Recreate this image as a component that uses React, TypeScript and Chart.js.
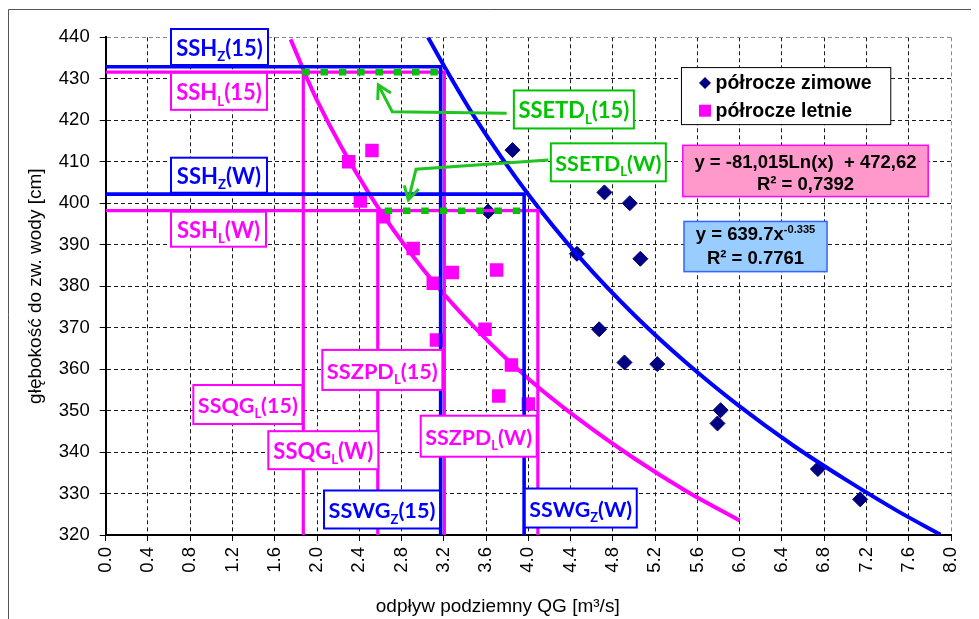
import React, { useEffect, useRef } from 'react';
import { Chart, registerables } from 'chart.js';

Chart.register(...registerables);

// ---------------- data ----------------
const X_MIN = 0;
const X_MAX = 8;
const X_STEP = 0.4;
const Y_MIN = 320;
const Y_MAX = 440;
const Y_STEP = 10;

const winterQ = [3.62, 3.85, 4.46, 4.67, 4.72, 4.91, 4.96, 5.06, 5.22, 5.79, 5.82, 6.74, 7.14];
const winterH = [398.0, 412.8, 387.8, 369.6, 402.6, 361.6, 400.0, 386.6, 361.2, 346.9, 350.1, 335.9, 328.6];

const summerQ = [2.30, 2.41, 2.52, 2.63, 2.91, 3.10, 3.13, 3.28, 3.59, 3.70, 3.72, 3.84, 4.00];
const summerH = [410.0, 400.5, 412.7, 396.7, 389.1, 380.7, 367.0, 383.3, 369.6, 383.9, 353.5, 361.0, 351.6];

// trend curves, points
const winterTrendQ = [3.05, 3.2, 3.5, 4.0, 4.5, 5.0, 5.5, 6.0, 6.5, 7.0, 7.5, 7.9];
const winterTrendH = [440.0, 433.2, 420.4, 402.1, 386.5, 373.1, 361.4, 351.0, 341.7, 333.4, 325.7, 320.1];
const summerTrendQ = [1.75, 2.0, 2.5, 3.0, 3.5, 4.0, 4.5, 5.0, 5.5, 6.0];
const summerTrendH = [439.5, 424.8, 402.0, 384.2, 369.8, 357.7, 347.5, 338.5, 330.5, 323.5];

// characteristic levels: index 0 = (15), index 1 = (W)
const SSH_Z = [432.9, 402.2];
const SSH_L = [431.6, 398.2];
const SSWG_Z = [3.17, 3.96];
const SSZPD_L = [3.205, 4.09];
const SSQG_L = [1.87, 2.575];
const SSETD_L_START = [1.86, 2.64];
const SSETD_L_END = [3.15, 3.95];

const SERIES_LABELS = ['półrocze zimowe', 'półrocze letnie'];
const X_TITLE = 'odpływ podziemny QG [m³/s]';
const Y_TITLE = 'głębokość do zw. wody [cm]';

// ---------------- styles ----------------
const BLUE = '#0000FF';
const MAGENTA = '#FF00FF';
const NAVY = '#000080';
const GREEN = '#00C400';
const GREEN_LINE = '#22C422';
const SANS = "'Liberation Sans', Arial, sans-serif";
const LABEL_FONT = "Lato, 'Open Sans', sans-serif";

type Seg = { t: string; sub?: boolean; sup?: boolean };

const LABEL_BOXES: { segs: Seg[]; color: string; anchor: 'left' | 'right'; x: number; y: number; w: number; h: number }[] = [
  { segs: [{ t: 'SSH' }, { t: 'Z', sub: true }, { t: '(15)' }], color: BLUE, anchor: 'left', x: 0.618, y: 437.66, w: 97, h: 36 },
  { segs: [{ t: 'SSH' }, { t: 'L', sub: true }, { t: '(15)' }], color: MAGENTA, anchor: 'left', x: 0.618, y: 426.97, w: 96, h: 37 },
  { segs: [{ t: 'SSH' }, { t: 'Z', sub: true }, { t: '(W)' }], color: BLUE, anchor: 'left', x: 0.618, y: 406.75, w: 96, h: 35 },
  { segs: [{ t: 'SSH' }, { t: 'L', sub: true }, { t: '(W)' }], color: MAGENTA, anchor: 'left', x: 0.618, y: 393.73, w: 95, h: 35 },
  { segs: [{ t: 'SSETD' }, { t: 'L', sub: true }, { t: '(15)' }], color: GREEN, anchor: 'left', x: 3.863, y: 422.6, w: 120, h: 38 },
  { segs: [{ t: 'SSETD' }, { t: 'L', sub: true }, { t: '(W)' }], color: GREEN, anchor: 'left', x: 4.213, y: 409.85, w: 115, h: 38 },
  { segs: [{ t: 'SSZPD' }, { t: 'L', sub: true }, { t: '(15)' }], color: MAGENTA, anchor: 'right', x: 3.186, y: 359.8, w: 120, h: 40 },
  { segs: [{ t: 'SSQG' }, { t: 'L', sub: true }, { t: '(15)' }], color: MAGENTA, anchor: 'right', x: 1.861, y: 351.46, w: 109, h: 39 },
  { segs: [{ t: 'SSQG' }, { t: 'L', sub: true }, { t: '(W)' }], color: MAGENTA, anchor: 'right', x: 2.58, y: 340.45, w: 110, h: 38 },
  { segs: [{ t: 'SSZPD' }, { t: 'L', sub: true }, { t: '(W)' }], color: MAGENTA, anchor: 'right', x: 4.079, y: 343.82, w: 116, h: 41 },
  { segs: [{ t: 'SSWG' }, { t: 'Z', sub: true }, { t: '(15)' }], color: BLUE, anchor: 'right', x: 3.164, y: 326.15, w: 116, h: 38 },
  { segs: [{ t: 'SSWG' }, { t: 'Z', sub: true }, { t: '(W)' }], color: BLUE, anchor: 'left', x: 3.966, y: 326.5, w: 112, h: 39 },
];

// arrows: polyline in data coords, last point = tip
const ARROWS: { x: number; y: number }[][] = [
  [{ x: 3.795, y: 421.7 }, { x: 2.712, y: 422.06 }, { x: 2.58, y: 428.5 }],
  [{ x: 4.189, y: 410.4 }, { x: 2.937, y: 408.2 }, { x: 2.864, y: 400.8 }],
];

const EQ_BOXES: { lines: Seg[][]; fill: string; stroke: string; x1: number; x2: number; y1: number; y2: number; ly: number[] }[] = [
  {
    lines: [[{ t: 'y = -81,015Ln(x)  + 472,62' }], [{ t: 'R² = 0,7392' }]],
    fill: '#FF99CC', stroke: MAGENTA, x1: 5.462, x2: 7.784, y1: 413.96, y2: 401.6, ly: [410.2, 404.8],
  },
  {
    lines: [[{ t: 'y = 639.7x' }, { t: '-0.335', sup: true }], [{ t: 'R² = 0.7761' }]],
    fill: '#99CCFF', stroke: '#3366FF', x1: 5.473, x2: 6.827, y1: 395.6, y2: 383.5, ly: [392.7, 386.9],
  },
];

const LEGEND_BOX = { x1: 5.449, x2: 7.43, y1: 432.7, y2: 418.95, markerX: 5.672, textX: 5.771, rows: [429.0, 422.3] };
const X_TITLE_POS = { dx: 392, y: 598.5 }; // offset from plot left edge, canvas y

// ---------------- drawing helpers ----------------
const SMALL = 0.6;
function fontStr(size: number, family: string, bold: boolean) {
  return `${bold ? 'bold ' : ''}${size}px ${family}`;
}
function measureSegs(ctx: CanvasRenderingContext2D, segs: Seg[], size: number, family: string, bold: boolean) {
  let w = 0;
  for (const s of segs) {
    ctx.font = fontStr(s.sub || s.sup ? size * SMALL : size, family, bold);
    w += ctx.measureText(s.t).width;
  }
  return w;
}
function drawSegs(ctx: CanvasRenderingContext2D, segs: Seg[], x: number, baseline: number, size: number, family: string, bold: boolean, color: string) {
  ctx.fillStyle = color;
  ctx.textAlign = 'left';
  ctx.textBaseline = 'alphabetic';
  let cx = x;
  for (const s of segs) {
    const fs = s.sub || s.sup ? size * SMALL : size;
    ctx.font = fontStr(fs, family, bold);
    const dy = s.sub ? size * 0.24 : s.sup ? -size * 0.4 : 0;
    ctx.fillText(s.t, cx, baseline + dy);
    cx += ctx.measureText(s.t).width;
  }
}

const overlayPlugin = {
  id: 'overlay',
  beforeDraw(chart: any) {
    const ctx: CanvasRenderingContext2D = chart.ctx;
    ctx.save();
    ctx.strokeStyle = '#555';
    ctx.lineWidth = 1;
    ctx.beginPath();
    ctx.moveTo(0.5, chart.height);
    ctx.lineTo(0.5, 1.5);
    ctx.lineTo(chart.width, 1.5);
    ctx.stroke();
    // x axis title (placed as in the reference, left of the axis centre)
    ctx.font = fontStr(19, SANS, false);
    ctx.fillStyle = '#000';
    ctx.textAlign = 'center';
    ctx.textBaseline = 'middle';
    ctx.fillText(X_TITLE, chart.chartArea.left + X_TITLE_POS.dx, X_TITLE_POS.y);
    ctx.restore();
  },
  afterDatasetsDraw(chart: any) {
    const ctx: CanvasRenderingContext2D = chart.ctx;
    const xs = chart.scales.x;
    const ys = chart.scales.y;
    const px = (v: number) => xs.getPixelForValue(v);
    const py = (v: number) => ys.getPixelForValue(v);
    ctx.save();

    // arrows
    ctx.strokeStyle = GREEN_LINE;
    ctx.lineWidth = 3;
    ctx.lineJoin = 'miter';
    ctx.lineCap = 'butt';
    for (const a of ARROWS) {
      ctx.beginPath();
      a.forEach((p, i) => (i === 0 ? ctx.moveTo(px(p.x), py(p.y)) : ctx.lineTo(px(p.x), py(p.y))));
      ctx.stroke();
      const tip = a[a.length - 1];
      const prev = a[a.length - 2];
      const tx = px(tip.x), ty = py(tip.y);
      const ang = Math.atan2(py(prev.y) - ty, px(prev.x) - tx);
      const L = 15;
      ctx.beginPath();
      ctx.moveTo(tx + L * Math.cos(ang + 0.52), ty + L * Math.sin(ang + 0.52));
      ctx.lineTo(tx, ty);
      ctx.lineTo(tx + L * Math.cos(ang - 0.52), ty + L * Math.sin(ang - 0.52));
      ctx.stroke();
    }

    // label boxes
    for (const b of LABEL_BOXES) {
      const ax = px(b.x);
      const left = b.anchor === 'left' ? ax : ax - b.w;
      const cy = py(b.y);
      const top = cy - b.h / 2;
      ctx.fillStyle = '#FFFFFF';
      ctx.fillRect(left, top, b.w, b.h);
      ctx.strokeStyle = b.color;
      ctx.lineWidth = 2;
      ctx.strokeRect(left, top, b.w, b.h);
      let size = 22;
      const tw0 = measureSegs(ctx, b.segs, size, LABEL_FONT, true);
      if (tw0 > b.w - 9) size = (size * (b.w - 9)) / tw0;
      const tw = measureSegs(ctx, b.segs, size, LABEL_FONT, true);
      drawSegs(ctx, b.segs, left + (b.w - tw) / 2, cy + size * 0.36 + 1, size, LABEL_FONT, true, b.color);
    }

    // equation boxes
    for (const e of EQ_BOXES) {
      const l = px(e.x1), r = px(e.x2), t = py(e.y1), btm = py(e.y2);
      ctx.fillStyle = e.fill;
      ctx.fillRect(l, t, r - l, btm - t);
      ctx.strokeStyle = e.stroke;
      ctx.lineWidth = 1.5;
      ctx.strokeRect(l, t, r - l, btm - t);
      const size = 18.5;
      e.lines.forEach((segs, i) => {
        const tw = measureSegs(ctx, segs, size, SANS, true);
        drawSegs(ctx, segs, (l + r) / 2 - tw / 2, py(e.ly[i]) + size * 0.36, size, SANS, true, '#000');
      });
    }

    // legend
    {
      const lb = LEGEND_BOX;
      const l = px(lb.x1), r = px(lb.x2), t = py(lb.y1), btm = py(lb.y2);
      ctx.fillStyle = '#FFFFFF';
      ctx.fillRect(l, t, r - l, btm - t);
      ctx.strokeStyle = '#000';
      ctx.lineWidth = 1;
      ctx.strokeRect(l, t, r - l, btm - t);
      const ds = chart.data.datasets;
      [0, 1].forEach((i) => {
        const cy = py(lb.rows[i]);
        const mx = px(lb.markerX);
        ctx.fillStyle = ds[i].backgroundColor;
        ctx.beginPath();
        if (i === 0) {
          const r0 = 6;
          ctx.moveTo(mx, cy - r0);
          ctx.lineTo(mx + r0, cy);
          ctx.lineTo(mx, cy + r0);
          ctx.lineTo(mx - r0, cy);
          ctx.closePath();
        } else {
          ctx.rect(mx - 6, cy - 6, 12, 12);
        }
        ctx.fill();
        ctx.font = fontStr(19.5, SANS, true);
        ctx.fillStyle = '#000';
        ctx.textAlign = 'left';
        ctx.textBaseline = 'middle';
        ctx.fillText(ds[i].label, px(lb.textX), cy + 1);
      });
    }
    ctx.restore();
  },
};

function pts(xs: number[], ys: number[]) {
  return xs.map((x, i) => ({ x, y: ys[i] }));
}

export default function App() {
  const ref = useRef<HTMLCanvasElement | null>(null);
  useEffect(() => {
    if (!ref.current) return;
    const refLine = (data: { x: number; y: number }[], color: string, width: number, order: number) => ({
      type: 'line' as const,
      label: '',
      data,
      borderColor: color,
      backgroundColor: color,
      borderWidth: width,
      pointRadius: 0,
      fill: false,
      tension: 0,
      borderJoinStyle: 'miter' as const,
      order,
    });
    const datasets: any[] = [
      {
        type: 'scatter',
        label: SERIES_LABELS[0],
        data: pts(winterQ, winterH),
        pointStyle: 'rectRot',
        pointRadius: 7.5,
        backgroundColor: NAVY,
        borderColor: NAVY,
        borderWidth: 1,
        order: 20,
      },
      {
        type: 'scatter',
        label: SERIES_LABELS[1],
        data: pts(summerQ, summerH),
        pointStyle: 'rect',
        pointRadius: 9.5,
        backgroundColor: MAGENTA,
        borderColor: MAGENTA,
        borderWidth: 0,
        order: 20,
      },
      { ...refLine(pts(winterTrendQ, winterTrendH), BLUE, 4, 15), cubicInterpolationMode: 'monotone' },
      { ...refLine(pts(summerTrendQ, summerTrendH), MAGENTA, 4, 15), cubicInterpolationMode: 'monotone' },
    ];
    [0, 1].forEach((i) => {
      datasets.push(refLine([{ x: 0, y: SSH_L[i] }, { x: SSZPD_L[i], y: SSH_L[i] }, { x: SSZPD_L[i], y: Y_MIN }], MAGENTA, 3.2, 10));
      datasets.push(refLine([{ x: SSQG_L[i], y: SSH_L[i] }, { x: SSQG_L[i], y: Y_MIN }], MAGENTA, 3.2, 10));
      datasets.push(refLine([{ x: 0, y: SSH_Z[i] }, { x: SSWG_Z[i], y: SSH_Z[i] }, { x: SSWG_Z[i], y: Y_MIN }], BLUE, 3.6, 8));
      datasets.push({
        ...refLine([{ x: SSETD_L_START[i], y: SSH_L[i] }, { x: SSETD_L_END[i], y: SSH_L[i] }], GREEN, 6.5, 2),
        borderDash: [7.5, 10.8],
        borderCapStyle: 'butt',
      });
    });

    const tickFont = { family: SANS, size: 18.5 };
    const chart = new Chart(ref.current, {
      type: 'scatter',
      data: { datasets },
      options: {
        animation: false,
        responsive: false,
        events: [],
        layout: { padding: { left: 0, right: 20, top: 29.3, bottom: 0 } },
        plugins: { legend: { display: false }, tooltip: { enabled: false } },
        scales: {
          x: {
            type: 'linear',
            position: 'bottom',
            min: X_MIN,
            max: X_MAX,
            afterFit: (s: any) => {
              s.height = 84;
              s.paddingLeft = 0;
              s.paddingRight = 0;
            },
            ticks: {
              stepSize: X_STEP,
              autoSkip: false,
              minRotation: 90,
              maxRotation: 90,
              padding: 6,
              color: '#000',
              font: tickFont,
              callback: (v: any) => Number(v).toFixed(1),
            },
            grid: {
              color: (c: any) => (c.tick && Math.abs(c.tick.value - X_MAX) < 1e-6 ? '#8a8a8a' : '#1a1a1a'),
              lineWidth: 1,
              tickLength: 6,
              tickColor: '#000',
            },
            border: { display: true, color: '#000', width: 2, dash: [4, 3] },
            title: { display: false, text: X_TITLE },
          },
          y: {
            type: 'linear',
            min: Y_MIN,
            max: Y_MAX,
            afterFit: (s: any) => {
              s.width = 97.7;
              s.paddingTop = 0;
              s.paddingBottom = 0;
            },
            ticks: { stepSize: Y_STEP, padding: 10, color: '#000', font: tickFont },
            grid: {
              color: (c: any) => (c.tick && Math.abs(c.tick.value - Y_MAX) < 1e-6 ? '#8a8a8a' : '#1a1a1a'),
              lineWidth: 1,
              tickLength: 6,
              tickColor: '#000',
            },
            border: { display: true, color: '#000', width: 2, dash: [4, 3] },
            title: { display: true, text: Y_TITLE, color: '#000', font: { family: SANS, size: 19 }, padding: { top: 16, bottom: 0 } },
          },
        },
      },
      plugins: [overlayPlugin],
    } as any);
    return () => chart.destroy();
  }, []);

  return (
    <div style={{ width: 963, height: 611 }}>
      <canvas ref={ref} width={963} height={611} />
    </div>
  );
}
